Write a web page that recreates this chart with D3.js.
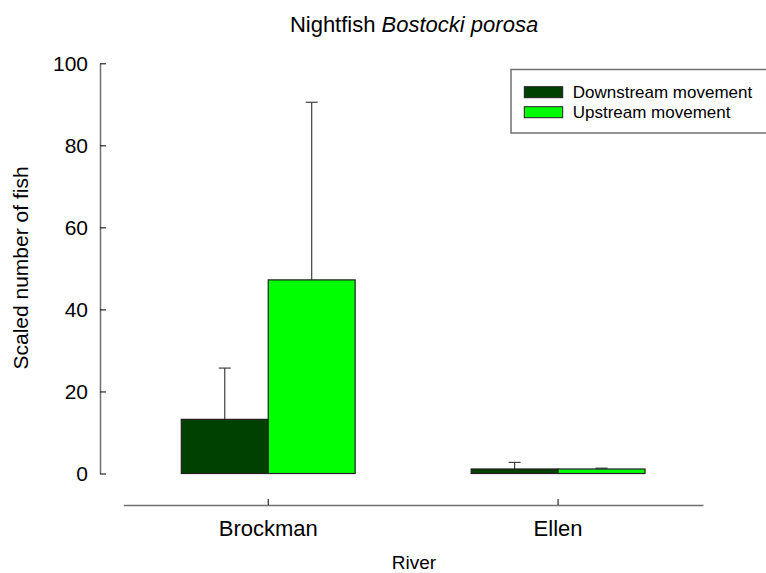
<!DOCTYPE html>
<html>
<head>
<meta charset="utf-8">
<script src="https://cdn.jsdelivr.net/npm/d3@7"></script>
<style>
  body { margin: 0; background: #fff; }
  text { font-family: "Liberation Sans", Arial, sans-serif; fill: #000; }
</style>
</head>
<body>
<div id="chart"></div>
<script>
// data
var rivers = ["Brockman", "Ellen"];
var series = ["Downstream movement", "Upstream movement"];
var colors = ["#004000", "#00ff00"];
var downMean = [13.2, 1.1];
var downErr = [12.5, 1.6];
var upMean = [47.2, 1.1];
var upErr = [43.3, 0.2];
var yTicks = [0, 20, 40, 60, 80, 100];

var width = 766, height = 573;

var svg = d3.select("#chart")
  .append("svg")
  .attr("width", width)
  .attr("height", height);

// scales
var y = d3.scaleLinear()
  .domain([0, 100])
  .range([473.5, 63.3]);

var x = d3.scaleBand()
  .domain(rivers)
  .range([123.3, 703])
  .padding(0);

var xSub = d3.scaleBand()
  .domain(series)
  .range([0, x.bandwidth()])
  .paddingInner(0)
  .paddingOuter(0.667);

// build rows from the arrays
var rows = [];
rivers.forEach(function(r, i) {
  rows.push({river: r, s: series[0], mean: downMean[i], err: downErr[i], c: colors[0]});
  rows.push({river: r, s: series[1], mean: upMean[i], err: upErr[i], c: colors[1]});
});

// y axis
var yAxis = svg.append("g")
  .attr("transform", "translate(100,0)")
  .call(d3.axisLeft(y).tickValues(yTicks).tickSizeInner(-6).tickSizeOuter(0).tickPadding(12));
yAxis.select(".domain").attr("stroke", "#707070").attr("stroke-width", 1.5);
yAxis.selectAll(".tick line").attr("stroke", "#000").attr("stroke-width", 1);
yAxis.selectAll(".tick text").style("font-size", "21px").style("font-family", "Liberation Sans, Arial, sans-serif");

// x axis
var xAxis = svg.append("g")
  .attr("transform", "translate(0,505)")
  .call(d3.axisBottom(x).tickSizeInner(-6).tickSizeOuter(0).tickPadding(15));
xAxis.select(".domain").attr("stroke", "#707070").attr("stroke-width", 1.5);
xAxis.selectAll(".tick line").attr("stroke", "#000").attr("stroke-width", 1);
xAxis.selectAll(".tick text").style("font-size", "22px").style("font-family", "Liberation Sans, Arial, sans-serif");

// error bars (upper only), drawn before bars
var eb = svg.append("g").selectAll("g")
  .data(rows)
  .enter()
  .append("g")
  .attr("transform", function(d) { return "translate(" + (x(d.river) + xSub(d.s) + xSub.bandwidth() / 2) + ",0)"; });

eb.append("line")
  .attr("x1", 0).attr("x2", 0)
  .attr("y1", function(d) { return y(d.mean); })
  .attr("y2", function(d) { return y(d.mean + d.err); })
  .attr("stroke", "#404040")
  .attr("stroke-width", 1.2);

eb.append("line")
  .attr("x1", -6).attr("x2", 6)
  .attr("y1", function(d) { return y(d.mean + d.err); })
  .attr("y2", function(d) { return y(d.mean + d.err); })
  .attr("stroke", "#404040")
  .attr("stroke-width", 1.2);

// bars
svg.append("g").selectAll("rect")
  .data(rows)
  .enter()
  .append("rect")
  .attr("x", function(d) { return x(d.river) + xSub(d.s); })
  .attr("y", function(d) { return y(d.mean); })
  .attr("width", xSub.bandwidth())
  .attr("height", function(d) { return y(0) - y(d.mean); })
  .attr("fill", function(d) { return d.c; })
  .attr("stroke", "#202020")
  .attr("stroke-width", 1.2);

// legend
var legend = svg.append("g");
legend.append("rect")
  .attr("x", 511).attr("y", 69.5)
  .attr("width", 280).attr("height", 63.5)
  .attr("fill", "#fff")
  .attr("stroke", "#707070")
  .attr("stroke-width", 1.5);

var li = legend.selectAll("g.item")
  .data(series)
  .enter()
  .append("g")
  .attr("class", "item")
  .attr("transform", function(d, i) { return "translate(524.3," + (86.7 + i * 20) + ")"; });

li.append("rect")
  .attr("width", 38.4).attr("height", 11)
  .attr("fill", function(d, i) { return colors[i]; })
  .attr("stroke", "#202020")
  .attr("stroke-width", 1);

li.append("text")
  .attr("x", 48.4).attr("y", 5.5)
  .attr("dy", "0.35em")
  .style("font-size", "17px")
  .text(function(d) { return d; });

// title
var title = svg.append("text")
  .attr("x", 414).attr("y", 31.5)
  .attr("text-anchor", "middle")
  .style("font-size", "22px");
title.append("tspan").text("Nightfish ");
title.append("tspan").style("font-style", "italic").text("Bostocki porosa");

// axis titles
svg.append("text")
  .attr("transform", "translate(27.5,268) rotate(-90)")
  .attr("text-anchor", "middle")
  .style("font-size", "21px")
  .text("Scaled number of fish");

svg.append("text")
  .attr("x", 414).attr("y", 569)
  .attr("text-anchor", "middle")
  .style("font-size", "19px")
  .text("River");
</script>
</body>
</html>
